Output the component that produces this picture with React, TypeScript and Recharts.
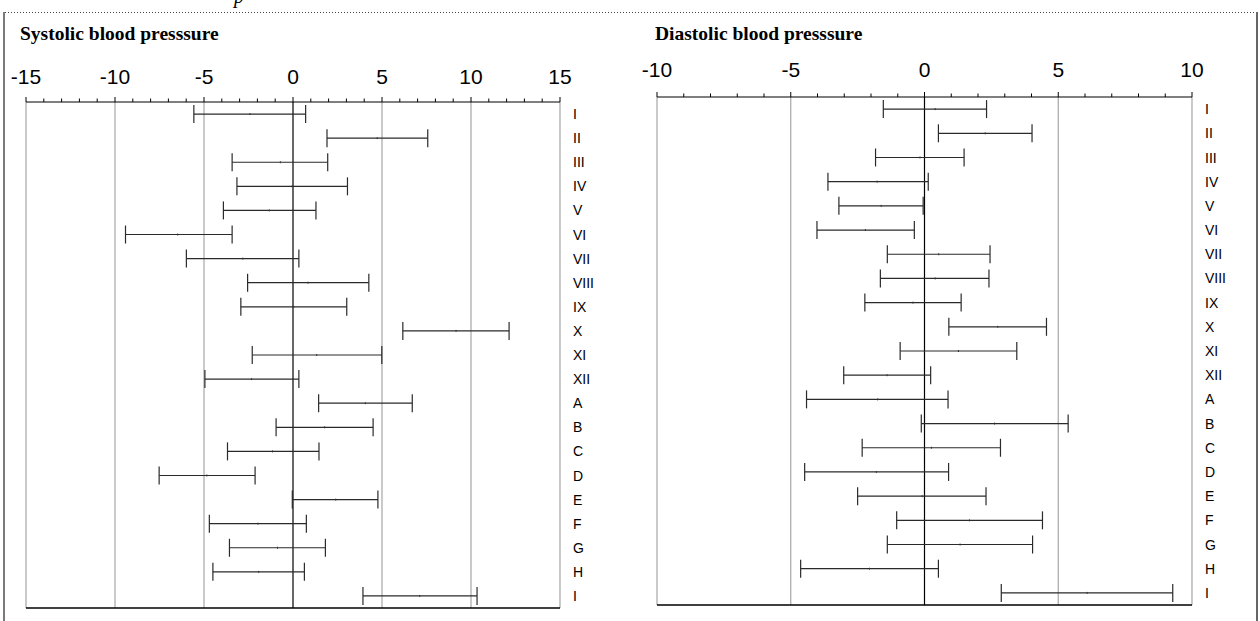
import React from "react";
import {
  ComposedChart,
  Scatter,
  ErrorBar,
  XAxis,
  YAxis,
  ReferenceLine,
} from "recharts";

// row labels, top to bottom (the first and last are both "I")
const categories = [
  "I", "II", "III", "IV", "V", "VI", "VII", "VIII", "IX", "X", "XI", "XII",
  "A", "B", "C", "D", "E", "F", "G", "H", "I",
];

// systolic: lower limit, point estimate, upper limit
const sysLow = [
  -5.57, 1.91, -3.42, -3.15, -3.91, -9.41, -5.99, -2.55, -2.93, 6.17, -2.29,
  -4.95, 1.44, -0.95, -3.68, -7.52, -0.04, -4.7, -3.57, -4.5, 3.93,
];
const sysMid = [
  -2.42, 4.73, -0.71, -0.05, -1.33, -6.48, -2.82, 0.84, 0.04, 9.16, 1.33,
  -2.33, 4.06, 1.78, -1.15, -4.84, 2.4, -1.97, -0.87, -1.93, 7.12,
];
const sysHigh = [
  0.71, 7.57, 1.95, 3.06, 1.29, -3.42, 0.33, 4.26, 3.02, 12.14, 4.99, 0.33,
  6.7, 4.5, 1.46, -2.13, 4.77, 0.75, 1.82, 0.64, 10.34,
];

// diastolic: lower limit, point estimate, upper limit
const diaLow = [
  -1.54, 0.52, -1.83, -3.61, -3.2, -4.02, -1.39, -1.65, -2.23, 0.91, -0.91,
  -3.02, -4.41, -0.12, -2.33, -4.48, -2.5, -1.04, -1.39, -4.63, 2.87,
];
const diaMid = [
  0.4, 2.27, -0.17, -1.77, -1.62, -2.21, 0.53, 0.4, -0.43, 2.74, 1.27, -1.4,
  -1.75, 2.62, 0.26, -1.8, -0.09, 1.68, 1.33, -2.06, 6.08,
];
const diaHigh = [
  2.32, 4.02, 1.48, 0.14, -0.05, -0.38, 2.45, 2.41, 1.37, 4.56, 3.45, 0.23,
  0.88, 5.37, 2.84, 0.9, 2.3, 4.41, 4.04, 0.52, 9.28,
];

const sysMajorTicks = [-15, -10, -5, 0, 5, 10, 15];
const diaMajorTicks = [-10, -5, 0, 5, 10];

const SANS = "Liberation Sans, Arial, sans-serif";
const SERIF = "Liberation Serif, Times New Roman, serif";

function buildRows(low: number[], mid: number[], high: number[]) {
  return categories.map((name, i) => ({
    key: String(i),
    name,
    mean: mid[i],
    err: [mid[i] - low[i], high[i] - mid[i]],
  }));
}

function unitTicks(major: number[]) {
  const out: number[] = [];
  for (let v = major[0]; v <= major[major.length - 1]; v++) out.push(v);
  return out;
}

function makeXTick(top: number, baseline: number) {
  return (props: any) => {
    const { x, payload } = props;
    const v = payload.value;
    const major = v % 5 === 0;
    return (
      <g>
        <line
          x1={x}
          x2={x}
          y1={top - (major ? 5 : 3.5)}
          y2={top}
          stroke="#000"
          strokeWidth={1}
        />
        {major && (
          <text
            x={x}
            y={baseline}
            textAnchor="middle"
            fontSize={21}
            fontFamily={SANS}
            fill="#000"
          >
            {v}
          </text>
        )}
      </g>
    );
  };
}

const rowTick = (props: any) => {
  const { x, y, payload } = props;
  return (
    <text
      x={x + 13}
      y={y}
      dy="0.36em"
      textAnchor="start"
      fontSize={14}
      fontFamily={SANS}
      fill="#000"
    >
      {categories[Number(payload.value)]}
    </text>
  );
};

// the point estimate is only a faint dot on the interval line
const midMark = (p: any) => (
  <rect x={p.cx - 0.5} y={p.cy - 1} width={1} height={2} fill="#333" />
);

function ForestPanel({
  rows,
  major,
  width,
  margin,
  top,
  baseline,
}: {
  rows: ReturnType<typeof buildRows>;
  major: number[];
  width: number;
  margin: { top: number; right: number; bottom: number; left: number };
  top: number;
  baseline: number;
}) {
  const domain = [major[0], major[major.length - 1]];
  return (
    <ComposedChart
      width={width}
      height={621}
      layout="vertical"
      data={rows}
      margin={margin}
    >
      <XAxis
        type="number"
        dataKey="mean"
        domain={domain}
        orientation="top"
        ticks={unitTicks(major)}
        interval={0}
        tickLine={false}
        axisLine={{ stroke: "#000", strokeWidth: 1.2 }}
        tick={makeXTick(top, baseline)}
        height={30}
        allowDataOverflow
      />
      <XAxis
        xAxisId="bottom"
        type="number"
        domain={domain}
        orientation="bottom"
        tick={false}
        tickLine={false}
        axisLine={{ stroke: "#000", strokeWidth: 1.5 }}
        height={1}
        allowDataOverflow
      />
      <YAxis
        type="category"
        dataKey="key"
        scale="band"
        orientation="right"
        width={40}
        interval={0}
        axisLine={false}
        tickLine={false}
        tickSize={0}
        tickMargin={0}
        tick={rowTick}
      />
      {major
        .filter((v) => v !== 0)
        .map((v) => (
          <ReferenceLine key={v} x={v} stroke="#a6a6a6" strokeWidth={1.2} />
        ))}
      <ReferenceLine x={0} stroke="#000" strokeWidth={1.2} />
      <Scatter dataKey="mean" shape={midMark} isAnimationActive={false}>
        <ErrorBar
          dataKey="err"
          direction="x"
          width={9}
          stroke="#2a2a2a"
          strokeWidth={1.2}
          isAnimationActive={false}
        />
      </Scatter>
    </ComposedChart>
  );
}

export default function App() {
  const sysRows = buildRows(sysLow, sysMid, sysHigh);
  const diaRows = buildRows(diaLow, diaMid, diaHigh);

  return (
    <div
      style={{
        position: "absolute",
        left: 0,
        top: 0,
        width: 1260,
        height: 621,
        background: "#fff",
        overflow: "hidden",
      }}
    >
      <svg
        width={1260}
        height={621}
        style={{ position: "absolute", left: 0, top: 0 }}
      >
        {/* cut-off caption above the frame */}
        <text
          x={234}
          y={3}
          fontSize={20}
          fontStyle="italic"
          fontFamily={SERIF}
          fill="#000"
        >
          p
        </text>
        <line
          x1={5}
          x2={1256}
          y1={12.5}
          y2={12.5}
          stroke="#444"
          strokeWidth={1}
          strokeDasharray="1 2"
        />
        <line x1={4} x2={4} y1={12} y2={621} stroke="#7a7a7a" strokeWidth={2} />
        <line
          x1={1257}
          x2={1257}
          y1={12}
          y2={621}
          stroke="#666"
          strokeWidth={2}
        />
        <text
          x={20}
          y={39.5}
          fontSize={19.5}
          fontWeight="bold"
          fontFamily={SERIF}
          fill="#000"
        >
          Systolic blood presssure
        </text>
        <text
          x={655}
          y={39.5}
          fontSize={19.5}
          fontWeight="bold"
          fontFamily={SERIF}
          fill="#000"
        >
          Diastolic blood presssure
        </text>
      </svg>

      <div style={{ position: "absolute", left: 0, top: 0 }}>
        <ForestPanel
          rows={sysRows}
          major={sysMajorTicks}
          width={620}
          margin={{ top: 72, right: 20, bottom: 12, left: 26 }}
          top={102}
          baseline={84}
        />
      </div>
      <div style={{ position: "absolute", left: 620, top: 0 }}>
        <ForestPanel
          rows={diaRows}
          major={diaMajorTicks}
          width={640}
          margin={{ top: 67, right: 28, bottom: 15, left: 37 }}
          top={97}
          baseline={77}
        />
      </div>
    </div>
  );
}
